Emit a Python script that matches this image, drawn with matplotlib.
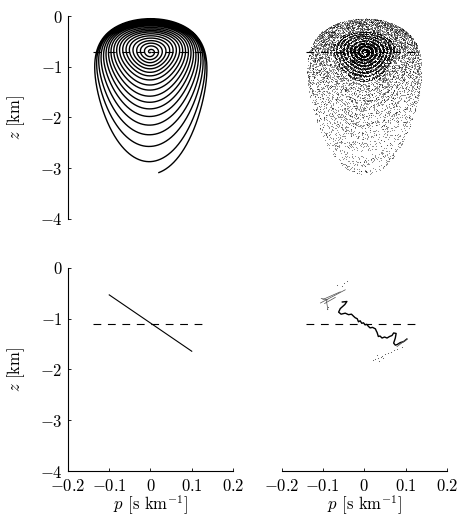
import numpy as np
import matplotlib
matplotlib.use("Agg")
import matplotlib.pyplot as plt

plt.rcParams['mathtext.fontset'] = 'cm'
plt.rcParams['font.family'] = 'serif'
plt.rcParams['font.serif'] = ['cmr10', 'DejaVu Serif']
plt.rcParams['axes.formatter.use_mathtext'] = True

# spiral loops (index 0 = centre)
loop_bottom = [-0.72, -0.80, -0.86, -0.92, -0.98, -1.04, -1.11, -1.18, -1.26, -1.36,
               -1.46, -1.58, -1.70, -1.83, -1.98, -2.15, -2.34, -2.57, -2.87, -3.12]
loop_top = [-0.70, -0.62, -0.56, -0.51, -0.46, -0.41, -0.37, -0.33, -0.30, -0.27,
            -0.24, -0.21, -0.18, -0.16, -0.14, -0.12, -0.10, -0.08, -0.06, -0.045]
loop_halfwidth = [0.002, 0.012, 0.022, 0.031, 0.040, 0.049, 0.057, 0.065, 0.073, 0.080,
                  0.087, 0.094, 0.100, 0.106, 0.112, 0.118, 0.124, 0.129, 0.134, 0.138]
spiral_end = 18.97

z_ref_top = -0.7
z_ref_bottom = -1.1
ref_p = [-0.14, 0.135]

# bottom-left: straight line
line_p = [-0.1, 0.1]
line_z = [-0.53, -1.64]

# bottom-right: wiggly curve
wig_p = [-0.053, -0.042, -0.047, -0.058, -0.062, -0.056, -0.046, -0.038, -0.031, -0.026,
         -0.022, -0.017, -0.014, -0.010, -0.006, -0.002, 0.002, 0.006, 0.010, 0.014,
         0.020, 0.027, 0.029, 0.031, 0.034, 0.038, 0.043, 0.049, 0.055, 0.061,
         0.067, 0.071, 0.077, 0.075, 0.071, 0.075, 0.079, 0.087, 0.095, 0.103]
wig_z = [-0.67, -0.66, -0.72, -0.80, -0.87, -0.91, -0.89, -0.92, -0.91, -0.95,
         -0.98, -1.00, -1.06, -1.04, -1.09, -1.08, -1.12, -1.11, -1.15, -1.18,
         -1.17, -1.20, -1.24, -1.27, -1.35, -1.34, -1.38, -1.36, -1.38, -1.35,
         -1.33, -1.28, -1.29, -1.38, -1.48, -1.52, -1.51, -1.47, -1.45, -1.40]
streak_p = [[-0.106, -0.046], [-0.100, -0.058], [-0.096, -0.070], [-0.104, -0.088],
            [-0.092, -0.088], [0.079, 0.103], [0.084, 0.100]]
streak_z = [[-0.69, -0.43], [-0.62, -0.47], [-0.70, -0.58], [-0.60, -0.63],
            [-0.62, -0.82], [-1.55, -1.40], [-1.50, -1.43]]
dots_p = [-0.066, -0.054, -0.042, -0.050, -0.090, -0.088, 0.090, 0.080, 0.072, 0.065,
          0.058, 0.050, 0.044, 0.040, 0.034, 0.030, 0.026, 0.022, 0.036, 0.046]
dots_z = [-0.33, -0.36, -0.26, -0.30, -0.80, -0.76, -1.55, -1.60, -1.62, -1.65,
          -1.67, -1.70, -1.73, -1.75, -1.77, -1.72, -1.80, -1.81, -1.83, -1.78]

# top-right cloud: number of particles in the spread part and in the core
n_spread = 8000
n_core = 2500

xticks = [-0.2, -0.1, 0, 0.1, 0.2]
xticklabels = ['$-0.2$', '$-0.1$', '$0$', '$0.1$', '$0.2$']
yticks = [0, -1, -2, -3, -4]
yticklabels = ['$0$', '$-1$', '$-2$', '$-3$', '$-4$']


def loop_shape(idx, ang):
    # position on loop number idx (fractional) at angle ang
    ii = np.arange(len(loop_bottom))
    zb = np.interp(idx, ii, loop_bottom)
    zt = np.interp(idx, ii, loop_top)
    a = np.interp(idx, ii, loop_halfwidth)
    f = np.clip(idx / (len(loop_bottom) - 1), 0, 1)
    m = 1 + 1.1 * f
    k = 1 + 6 * f
    s = (1 - np.cos(ang)) / 2
    sg = np.linspace(0, 1, 400)[:, None]
    wmax = (np.sqrt(1 - (1 - sg) ** m) * np.sqrt(1 - sg ** k)).max(axis=0)
    w = np.sqrt(1 - (1 - s) ** m) * np.sqrt(np.clip(1 - s ** k, 0, 1)) / wmax
    p = -np.sign(np.sin(ang)) * a * w
    z = zb + (zt - zb) * s
    return p, z


def hashed(n, c):
    return (np.sin(n * c) * 43758.5453) % 1


fig = plt.figure(figsize=(4.6, 5.23), dpi=100)
ax_tl = fig.add_axes([0.1478, 0.5813, 0.3587, 0.3881])
ax_tr = fig.add_axes([0.6120, 0.5813, 0.3598, 0.3881])
ax_bl = fig.add_axes([0.1478, 0.0994, 0.3587, 0.3882])
ax_br = fig.add_axes([0.6120, 0.0994, 0.3598, 0.3882])

# top left: spiral
phi = np.linspace(0, 2 * np.pi * spiral_end, 40000)
sp, sz = loop_shape(phi / (2 * np.pi), phi)
ax_tl.plot(sp, sz, color='k', lw=1.0)
ax_tl.plot(ref_p, [z_ref_top, z_ref_top], color='k', lw=0.8, dashes=(7, 6))

# top right: particles spread around the same spiral
n = np.arange(1, n_spread + 1)
r = 0.5 + 18.6 * hashed(n, 12.9898) ** 0.75
cp, cz = loop_shape(r, 2 * np.pi * (r + 0.8 * (hashed(n, 78.233) - 0.5)))
ax_tr.scatter(cp, cz, s=0.6, c='k', linewidths=0, alpha=0.5)
n = np.arange(1, n_core + 1)
r = 0.3 + 8.0 * hashed(n, 39.3468)
cp, cz = loop_shape(r, 2 * np.pi * (r + 0.5 * (hashed(n, 11.135) - 0.5)))
ax_tr.scatter(cp, cz, s=0.6, c='k', linewidths=0, alpha=0.8)
ax_tr.plot(ref_p, [z_ref_top, z_ref_top], color='k', lw=0.8, dashes=(7, 6))

# bottom left
ax_bl.plot(line_p, line_z, color='k', lw=0.8)
ax_bl.plot(ref_p, [z_ref_bottom, z_ref_bottom], color='k', lw=0.8, dashes=(7, 6))

# bottom right
ax_br.plot(wig_p, wig_z, color='k', lw=1.0)
for sp_, sz_ in zip(streak_p, streak_z):
    ax_br.plot(sp_, sz_, color='0.3', lw=0.5)
ax_br.scatter(dots_p, dots_z, s=0.6, c='0.3', linewidths=0)
ax_br.plot(ref_p, [z_ref_bottom, z_ref_bottom], color='k', lw=0.8, dashes=(7, 6))

for ax in [ax_tl, ax_tr, ax_bl, ax_br]:
    ax.set_xlim(-0.2, 0.2)
    ax.set_ylim(-4, 0)
    ax.set_xticks(xticks)
    ax.set_xticklabels(xticklabels)
    ax.set_yticks(yticks)
    ax.set_yticklabels(yticklabels)
    ax.tick_params(direction='in', length=2.5, width=0.6, labelsize=12)
    ax.tick_params(axis='x', pad=5)
    ax.tick_params(axis='y', pad=4)
    for side in ['top', 'right']:
        ax.spines[side].set_visible(False)
    for side in ['left', 'bottom']:
        ax.spines[side].set_linewidth(0.8)

ax_tl.spines['bottom'].set_visible(False)
ax_tl.tick_params(bottom=False, labelbottom=False)
ax_tr.axis('off')
ax_br.spines['left'].set_visible(False)
ax_br.tick_params(left=False, labelleft=False)

for ax in [ax_tl, ax_bl]:
    ax.set_ylabel('$z$ [km]', fontsize=12, labelpad=9)
for ax in [ax_bl, ax_br]:
    ax.set_xlabel('$p$ [s km$^{-1}$]', fontsize=12, labelpad=0)

fig.savefig('out.png', dpi=100)
